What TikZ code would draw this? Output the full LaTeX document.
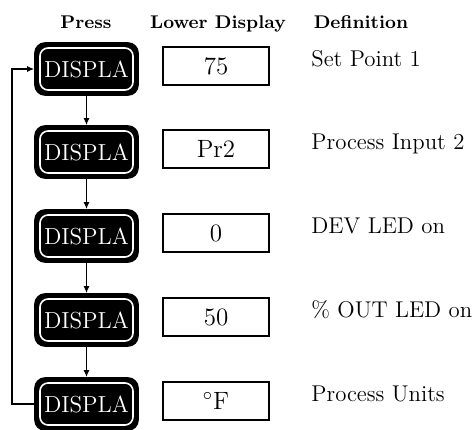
\documentclass[tikz,border=0pt]{standalone}
\usepackage{tikz}
\usetikzlibrary{arrows.meta}

\begin{document}
\begin{tikzpicture}[x=0.5pt, y=-0.5pt,
    btn/.style={fill=black, draw=black, line width=0.8pt, rounded corners=5pt,
        minimum width=51.5pt, minimum height=26pt, inner sep=0pt,
        text=white, font=\fontsize{11.6}{13}\selectfont,
        path picture={\draw[white, line width=0.8pt, rounded corners=4pt]
            ([shift={(2.5pt,-2.5pt)}]path picture bounding box.north west) rectangle
            ([shift={(-2.5pt,2.5pt)}]path picture bounding box.south east);}},
    lcd/.style={draw, line width=0.85pt, minimum width=53pt, minimum height=19pt,
        inner sep=0pt, font=\fontsize{12.5}{14}\selectfont},
    head/.style={anchor=base, font=\fontsize{9.2}{11}\selectfont\bfseries},
    defn/.style={anchor=base west, inner sep=0pt, font=\fontsize{11.4}{13}\selectfont},
    flow/.style={-{Latex[length=3.5pt,width=3pt]}, line width=0.8pt}]
    \useasboundingbox (0,0) rectangle (476,429);
    \node[head] (hpress) at (86,28) {Press};
    \node[head] (hlower) at (218,28) {Lower Display};
    \node[head] (hdef) at (361,28) {Definition};
    \foreach \i/\y/\v/\d in {1/69/75/Set Point 1, 2/152/Pr2/Process Input 2,
        3/236/0/DEV LED on, 4/320/50/\% OUT LED on, 5/404/$^{\circ}$F/Process Units} {
        \node[btn] (btn\i) at (86.5,\y) {DISPLA};
        \node[lcd] (val\i) at (216,\y-3) {\v};
        \node[defn] (def\i) at (311,\y-3) {\d};
    }
    \foreach \i/\j in {1/2, 2/3, 3/4, 4/5}
        \draw[flow] (btn\i.south) -- (btn\j.north);
    \draw[flow] (btn5.west) -- ++(-22,0) |- (btn1.west);
\end{tikzpicture}
\end{document}
